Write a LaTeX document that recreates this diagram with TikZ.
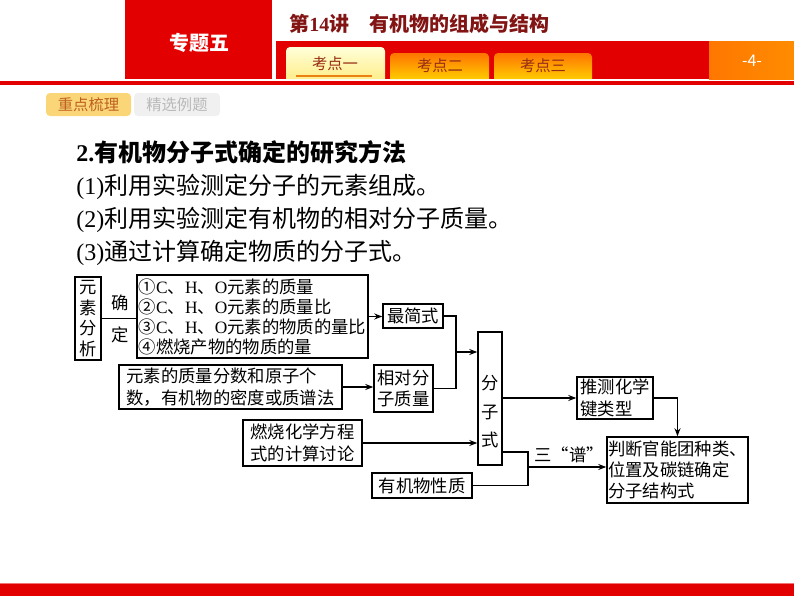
\documentclass[tikz,border=0pt]{standalone}
\usepackage{fontspec}
\setmainfont{Noto Sans CJK SC}
\newfontfamily\lat{Liberation Serif}
\usetikzlibrary{arrows.meta}
\definecolor{hongse}{RGB}{226,0,0}
\definecolor{anhong}{RGB}{130,20,20}
\definecolor{chengse}{RGB}{255,140,0}
\definecolor{zongse}{RGB}{150,45,20}
\definecolor{huangse}{RGB}{250,214,120}
\definecolor{huangzi}{RGB}{190,95,30}

\begin{document}
\begin{tikzpicture}[x=0.75pt,y=-0.75pt,
  kuang/.style={draw,line width=1.1pt,inner sep=0pt,align=left,font=\fontsize{13pt}{16pt}\selectfont},
  wenzi/.style={inner sep=0pt,font=\fontsize{13pt}{16pt}\selectfont},
  zhengwen/.style={anchor=west,inner sep=0pt,font=\fontsize{18pt}{20pt}\selectfont},
  biaoqian/.style={inner sep=0pt,text=zongse,font=\fontsize{11.5pt}{13pt}\selectfont},
  xian/.style={line width=1.1pt},
  jian/.style={line width=1.1pt,-{Stealth[length=6pt,width=4.5pt]}}]
 \useasboundingbox (0,0) rectangle (794,596);
 % header
 \fill[hongse] (125,0) rectangle (272,79);
 \fill[hongse] (276,41) rectangle (709,79);
 \shade[left color=chengse!85!red,right color=chengse] (709,41) rectangle (794,79);
 \fill[hongse] (0,81) rectangle (794,84.5);
 \shade[top color=yellow!15,bottom color=orange!30!yellow!45] (286,79) [rounded corners=3pt] -- (286,47) -- (385,47) [sharp corners] -- (385,79) -- cycle;
 \shade[top color=orange!90!red,bottom color=orange!40!yellow] (390,79) [rounded corners=3pt] -- (390,53) -- (489,53) [sharp corners] -- (489,79) -- cycle;
 \shade[top color=orange!90!red,bottom color=orange!40!yellow] (494,79) [rounded corners=3pt] -- (494,53) -- (592,53) [sharp corners] -- (592,79) -- cycle;
 \draw[line width=1.2pt,orange!70!brown] (296,76) -- (372,76);
 \node[inner sep=0pt,text=white,font=\fontsize{15pt}{18pt}\selectfont\bfseries] (zhuanti) at (199,43) {专题五};
 \node[anchor=west,inner sep=0pt,text=anhong,font=\fontsize{15pt}{18pt}\selectfont\bfseries] (biaoti) at (289,24) {第{\lat 14}讲\hspace{15pt}有机物的组成与结构};
 \node[biaoqian] (kd1) at (335,64) {考点一};
 \node[biaoqian] (kd2) at (440,66) {考点二};
 \node[biaoqian] (kd3) at (543,66) {考点三};
 \node[inner sep=0pt,text=white,font=\fontsize{12pt}{14pt}\selectfont] (yema) at (752,61) {-4-};
 \fill[huangse,rounded corners=3pt] (46,93) rectangle (131,116);
 \fill[gray!12,rounded corners=3pt] (134,93) rectangle (220,116);
 \node[inner sep=0pt,text=huangzi,font=\fontsize{11.5pt}{13pt}\selectfont] (shuli) at (88.5,104.5) {重点梳理};
 \node[inner sep=0pt,text=gray!55,font=\fontsize{11.5pt}{13pt}\selectfont] (liti) at (177,104.5) {精选例题};
 \fill[hongse] (0,583) rectangle (794,596);
 \fill[hongse!55] (0,582.5) rectangle (794,584);
 % text
 \node[zhengwen,font=\fontsize{18pt}{20pt}\selectfont\bfseries] (t0) at (76,152) {{\lat 2.}有机物分子式确定的研究方法};
 \node[zhengwen] (t1) at (76,187) {{\lat (1)}利用实验测定分子的元素组成。};
 \node[zhengwen] (t2) at (76,220) {{\lat (2)}利用实验测定有机物的相对分子质量。};
 \node[zhengwen] (t3) at (76,253) {{\lat (3)}通过计算确定物质的分子式。};
 % diagram
 \node[kuang,align=center,minimum width=19.5pt,minimum height=62.25pt,font=\fontsize{13pt}{15.4pt}\selectfont] (fenxi) at (88,318.5) {元\\素\\分\\析};
 \node[kuang,minimum width=173.25pt,minimum height=62.25pt,font=\fontsize{13pt}{15pt}\selectfont] (liang) at (252.5,316.5)
  {①{\lat C}、{\lat H}、{\lat O}元素的质量\\②{\lat C}、{\lat H}、{\lat O}元素的质量比\\③{\lat C}、{\lat H}、{\lat O}元素的物质的量比\\④燃烧产物的物质的量};
 \node[wenzi] (que) at (120,303) {确};
 \node[wenzi] (ding) at (120,335) {定};
 \node[kuang,minimum width=45pt,minimum height=18pt] (zuijian) at (413,316) {最简式};
 \node[kuang,minimum width=167.25pt,minimum height=33pt] (zhiliang) at (230.5,387) {元素的质量分数和原子个\\数，有机物的密度或质谱法};
 \node[kuang,minimum width=44.25pt,minimum height=35.25pt] (xiangdui) at (403.5,388.5) {相对分\\子质量};
 \node[kuang,align=center,minimum width=18pt,minimum height=99.75pt,font=\fontsize{13pt}{21.4pt}\selectfont] (fenzishi) at (490,398.5) {\mbox{}\\[9pt]分\\子\\式};
 \node[kuang,minimum width=89.25pt,minimum height=34.5pt] (ranshao) at (302.5,443) {燃烧化学方程\\式的计算讨论};
 \node[kuang,minimum width=75pt,minimum height=18.75pt] (xingzhi) at (422,485.5) {有机物性质};
 \node[kuang,minimum width=57pt,minimum height=31.5pt] (tuice) at (615,398) {推测化学\\键类型};
 \node[kuang,minimum width=105.75pt,minimum height=49.5pt] (panduan) at (677.5,470) {判断官能团种类、\\位置及碳链确定\\分子结构式};
 \coordinate (hui) at (456,352);
 \coordinate (pu) at (528,467);
 \draw[xian] (fenxi.east) -- (fenxi.east -| liang.west);
 \draw[jian] (liang.east) -- (liang.east -| zuijian.west);
 \draw[jian] (zhiliang.east) -- (zhiliang.east -| xiangdui.west);
 \draw[xian] (zuijian.east) -| (hui) |- (xiangdui.east);
 \draw[jian] (hui) -- (hui -| fenzishi.west);
 \draw[jian] (ranshao.east) -- (ranshao.east -| fenzishi.west);
 \draw[jian] (fenzishi.east |- tuice.west) -- (tuice.west);
 \draw[jian] (tuice.east) -| (panduan.north);
 \draw[xian] ([yshift=-40pt]fenzishi.east) -| (pu) |- (xingzhi.east);
 \draw[jian] (pu) -- (pu -| panduan.west);
 \node[wenzi] (sanpu) at (569,455) {三“谱”};
\end{tikzpicture}
\end{document}
